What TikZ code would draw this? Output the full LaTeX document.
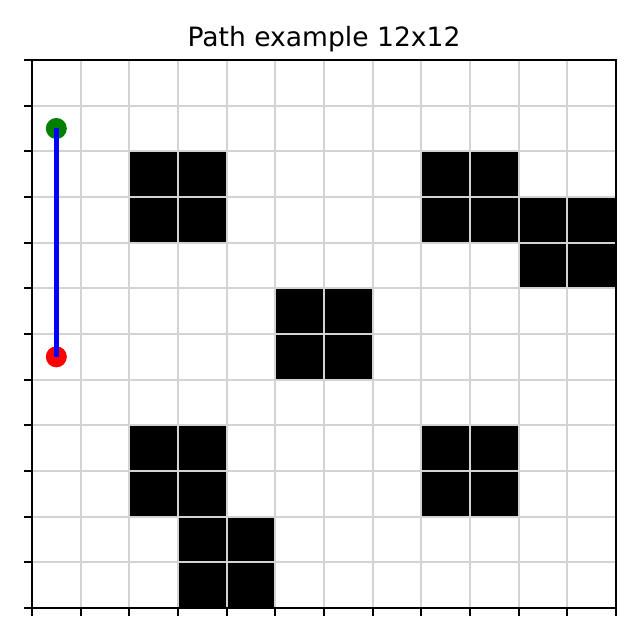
\documentclass[tikz,border=0pt]{standalone}
\usepackage{fontspec}
\setmainfont{DejaVu Sans}
\usepackage{tikz}

\begin{document}
\begin{tikzpicture}[x=21.98pt, y=20.6275pt,
    obstacle/.style={fill=black},
    gridline/.style={draw={rgb,255:red,211;green,211;blue,211}, line width=0.8pt},
    spine/.style={draw=black, line width=0.8pt},
    tickmark/.style={draw=black, line width=0.8pt},
    marker/.style={circle, inner sep=0pt, minimum size=9.5pt},
    route/.style={draw={rgb,255:red,0;green,0;blue,255}, line width=2pt}]

% figure size
\useasboundingbox (-14.454pt,-14.454pt) rectangle (274.63pt,274.63pt);

% obstacles
\foreach \c/\r in {2/8, 8/8, 10/7, 5/5, 2/2, 8/2, 3/0}
  \fill[obstacle] (\c,\r) rectangle ++(2,2);

% grid
\foreach \i in {1,...,11} {
  \draw[gridline] (\i,0) -- (\i,12);
  \draw[gridline] (0,\i) -- (12,\i);
}

% axes and ticks
\draw[spine] (0,0) rectangle (12,12);
\foreach \i in {0,...,12} {
  \draw[tickmark] (\i,0) -- ++(0,-3.5pt);
  \draw[tickmark] (0,\i) -- ++(-3.5pt,0);
}

% title
\node[anchor=base, font=\fontsize{12}{14}\selectfont] (title) at ([yshift=6pt]6,12) {Path example 12x12};

% start and goal
\node[marker, fill={rgb,255:red,0;green,128;blue,0}] (start) at (0.5,10.5) {};
\node[marker, fill={rgb,255:red,255;green,0;blue,0}] (goal) at (0.5,5.5) {};

% path
\draw[route] (start.center) -- (goal.center);

\end{tikzpicture}
\end{document}
